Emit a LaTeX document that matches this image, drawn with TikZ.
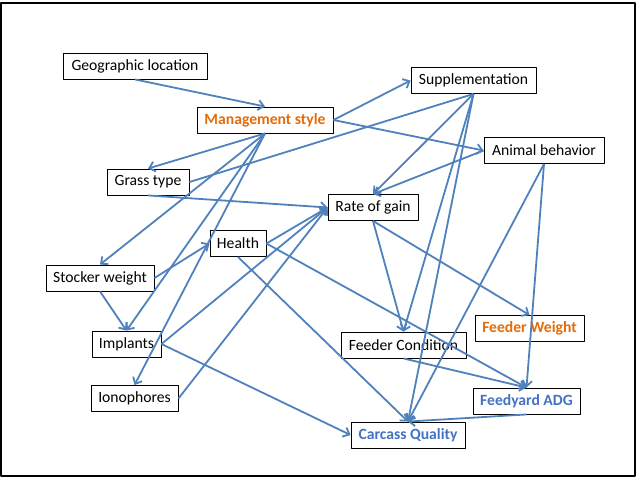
\documentclass[tikz,border=0pt]{standalone}
\usepackage{fontspec}
\setmainfont{Carlito}
\usetikzlibrary{arrows.meta}
\definecolor{linkblue}{HTML}{4F81BD}
\definecolor{txtorange}{HTML}{E46C0A}
\definecolor{txtblue}{HTML}{4472C4}

\begin{document}
\begin{tikzpicture}[x=1bp, y=-1bp, line join=round,
    box/.style={draw=black, line width=0.9bp, fill=white, minimum height=26bp, inner sep=2bp,
                font=\fontsize{15.7}{18}\selectfont},
    hot/.style={box, text=txtorange, font=\fontsize{15.7}{18}\selectfont\bfseries},
    outc/.style={box, text=txtblue, font=\fontsize{15.7}{18}\selectfont\bfseries},
    link/.style={draw=linkblue, line width=1.8bp, -{Straight Barb[length=5.5bp, width=10bp]}},
    plain/.style={draw=linkblue, line width=1.8bp}]
    \useasboundingbox (0,0) rectangle (637,478);
    \draw[line width=2bp] (1,3) rectangle (635,476);
    \node[box, minimum width=144bp] (geo) at (135,66) {Geographic location};
    \node[hot, minimum width=136bp] (mgmt) at (265,120) {Management style};
    \node[box, minimum width=125bp] (supp) at (473.5,80.5) {Supplementation};
    \node[box, minimum width=120bp] (behav) at (544,150.5) {Animal behavior};
    \node[box, minimum width=82bp] (grass) at (148,182) {Grass type};
    \node[box, minimum width=90bp] (gain) at (373,207.5) {Rate of gain};
    \node[box, minimum width=56bp] (health) at (238,243.5) {Health};
    \node[box, minimum width=108bp] (stocker) at (100,278) {Stocker weight};
    \node[box, minimum width=69bp] (impl) at (126.5,344) {Implants};
    \node[box, minimum width=87bp] (iono) at (134.5,398.5) {Ionophores};
    \node[box, minimum width=125bp] (cond) at (403.5,345) {Feeder Condition};
    \node[hot, minimum width=109bp] (fweight) at (529.5,328.5) {Feeder Weight};
    \node[outc, minimum width=107bp] (adg) at (526.5,401) {Feedyard ADG};
    \node[outc, minimum width=114bp] (carc) at (408,435) {Carcass Quality};
    % links
    \draw[link] (geo.south) -- (mgmt.north);
    \draw[link] (mgmt.south) -- (grass.north);
    \draw[link] (mgmt.south) -- (stocker.north);
    \draw[link] (mgmt.south) -- (impl.north);
    \draw[link] (mgmt.south) -- (iono.north);
    \draw[link] (mgmt.east) -- (supp.west);
    \draw[link] (mgmt.east) -- (behav.west);
    \draw[plain] (grass.east) -- (supp.south);
    \draw[link] (grass.south) -- (gain.west);
    \draw[link] (supp.south) -- (gain.north);
    \draw[link] (behav.west) -- (gain.north);
    \draw[link] (supp.south) -- (cond.north);
    \draw[link] (supp.south) -- (carc.north);
    \draw[link] (gain.south) -- (cond.north);
    \draw[link] (gain.south) -- (fweight.north);
    \draw[link] (behav.south) -- (adg.north);
    \draw[link] (behav.south) -- (carc.north);
    \draw[link] (health.east) -- (gain.west);
    \draw[link] (health.east) -- (adg.north);
    \draw[link] (health.south) -- (carc.north);
    \draw[link] (stocker.east) -- (health.west);
    \draw[link] (stocker.south) -- (impl.north);
    \draw[link] (impl.east) -- (gain.west);
    \draw[link] (impl.east) -- (carc.west);
    \draw[link] (iono.east) -- (gain.west);
    \draw[link] (cond.south) -- (adg.north);
    \draw[link] (adg.south) -- (carc.north);
\end{tikzpicture}
\end{document}
